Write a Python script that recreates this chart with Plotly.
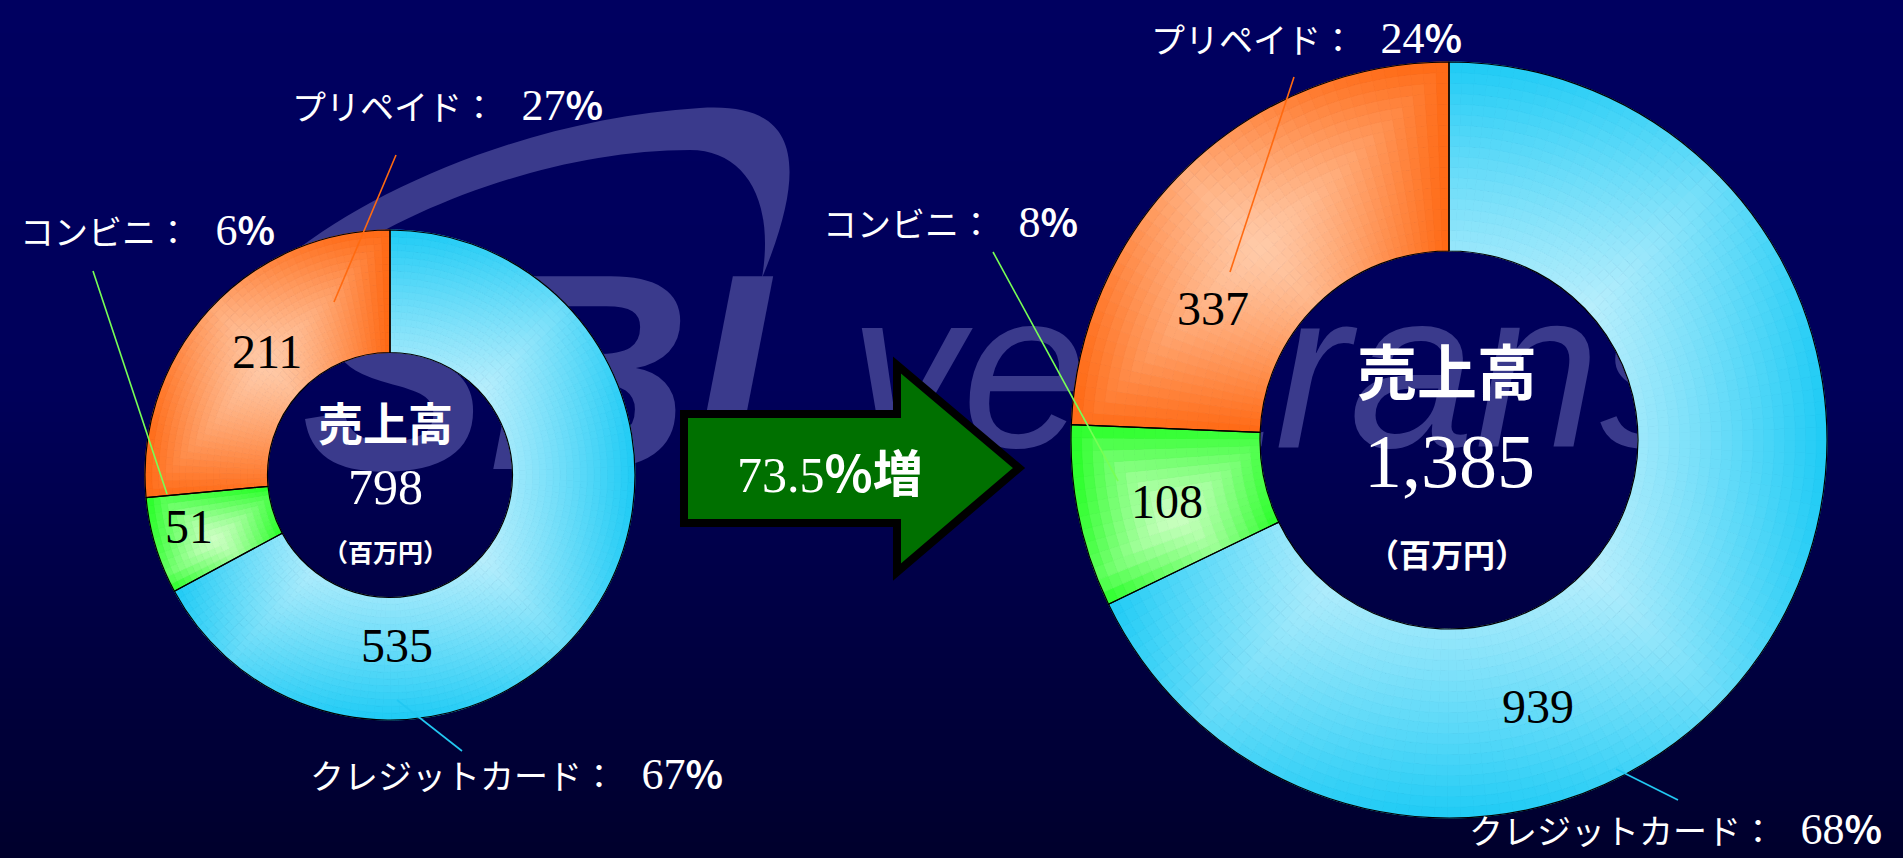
import math
import zlib
import struct
import base64
import plotly.graph_objects as go

W, H = 1903, 858

# ---------------- data ----------------
categories = ["クレジットカード", "コンビニ", "プリペイド"]
sales_before = [535, 51, 211]          # 百万円
sales_after = [939, 108, 337]          # 百万円
share_before = [67, 6, 27]             # %
share_after = [68, 8, 24]              # %
total_before = "798"
total_after = "1,385"
growth_rate = "73.5"
center_title = "売上高"
unit_label = "（百万円）"

# ---------------- style ----------------
SERIF = "Liberation Serif"
JP = "Noto Sans CJK JP"
MIX = "Liberation Serif, Noto Sans CJK JP"
SAT = [(30, 203, 245), (34, 255, 34), (255, 104, 18)]
LIGHT = [(235, 250, 255), (205, 255, 195), (255, 202, 168)]
LINE_COL = ["#22c8f2", "#77ff55", "#ff6a10"]
WM = "#3a3a8c"


def px(x):
    return x / W


def py(y):
    return 1 - y / H


def P(x, y):
    return f"{px(x):.5f},{py(y):.5f}"


def mix(a, b, f):
    return "rgb(%d,%d,%d)" % tuple(round(a[i] + (b[i] - a[i]) * f) for i in range(3))


def png_column(colors):
    raw = b"".join(b"\x00" + bytes(c) for c in colors)

    def chunk(t, d):
        c = struct.pack(">I", len(d)) + t + d
        return c + struct.pack(">I", zlib.crc32(t + d) & 0xFFFFFFFF)

    ihdr = struct.pack(">IIBBBBB", 1, len(colors), 8, 2, 0, 0, 0)
    png = (b"\x89PNG\r\n\x1a\n" + chunk(b"IHDR", ihdr)
           + chunk(b"IDAT", zlib.compress(raw)) + chunk(b"IEND", b""))
    return "data:image/png;base64," + base64.b64encode(png).decode()


bg_rows = []
for yy in range(H):
    t = yy / (H - 1)
    b = 96 - 6 * t / 0.45 if t < 0.45 else 90 - 46 * (t - 0.45) / 0.55
    bg_rows.append((0, 0, int(round(b))))

fig = go.Figure()


def domain(cx, cy, r):
    return dict(x=[px(cx - r), px(cx + r)], y=[py(cy + r), py(cy - r)])


def add_donut(values, cx, cy, r_out, hole, n_rings=18, step=2.0):
    total = sum(values)
    r_in = r_out * hole
    starts, acc = [], 0.0
    for v in values:
        starts.append(acc)
        acc += v / total * 360
    # bounding box of each slice (for a path-style gradient)
    boxes = []
    for i, v in enumerate(values):
        span = v / total * 360
        xs, ys = [], []
        for s in range(201):
            a = math.radians(starts[i] + span * s / 200)
            for r in (r_in, r_out):
                xs.append(cx + r * math.sin(a))
                ys.append(cy - r * math.cos(a))
        boxes.append(((min(xs) + max(xs)) / 2, (min(ys) + max(ys)) / 2,
                      (max(xs) - min(xs)) / 2, (max(ys) - min(ys)) / 2))
    for k in range(n_rings):
        r_lo = r_in + (r_out - r_in) * k / n_rings
        r_hi = r_in + (r_out - r_in) * (k + 1) / n_rings
        r_mid = (r_lo + r_hi) / 2
        labs, vals, cols = [], [], []
        for i, v in enumerate(values):
            span = v / total * 360
            m = max(2, int(round(span / step)))
            bx, by, hw, hh = boxes[i]
            for j in range(m):
                a = math.radians(starts[i] + (j + 0.5) * span / m)
                x = cx + r_mid * math.sin(a)
                y = cy - r_mid * math.cos(a)
                s = min(1.0, max(abs(x - bx) / hw, abs(y - by) / hh))
                cols.append(mix(LIGHT[i], SAT[i], s ** 1.3))
                labs.append(f"{i}-{j}")
                vals.append(v / m)
        fig.add_trace(go.Pie(
            labels=labs, values=vals, domain=domain(cx, cy, r_hi),
            hole=r_lo / r_hi, sort=False, direction="clockwise", rotation=0,
            marker=dict(colors=cols, line=dict(color=cols, width=1)),
            textinfo="none", hoverinfo="skip", showlegend=False))
    fig.add_trace(go.Pie(
        labels=categories, values=values, domain=domain(cx, cy, r_out),
        hole=hole, sort=False, direction="clockwise", rotation=0,
        marker=dict(colors=["rgba(0,0,0,0)"] * len(values),
                    line=dict(color="black", width=1.2)),
        textinfo="none", hovertemplate="%{label}: %{value}<extra></extra>",
        showlegend=False))


L_CX, L_CY, L_R = 390, 475, 245
R_CX, R_CY, R_R = 1449, 440, 378
add_donut(sales_before, L_CX, L_CY, L_R, 0.5)
add_donut(sales_after, R_CX, R_CY, R_R, 0.5)

ann = []


def text(x, y, s, size, color="white", family=MIX, xanchor="center"):
    ann.append(dict(x=px(x), y=py(y), xref="paper", yref="paper", text=s,
                    showarrow=False, xanchor=xanchor, yanchor="middle",
                    font=dict(size=size, color=color, family=family)))


def share_text(cat, p):
    return (f"{cat}：\u2002\u00a0<span style=\"font-size:44px\">{p}</span>"
            f"<span style=\"font-family:Noto Sans CJK JP;font-size:39px\"><b>%</b></span>")


# values inside the slices
for (x, y), v in zip([(397, 645), (189, 526), (267, 351)], sales_before):
    text(x, y, f"{v}", 48, "black", SERIF)
for (x, y), v in zip([(1538, 706), (1167, 501), (1213, 308)], sales_after):
    text(x, y, f"{v}", 48, "black", SERIF)

# centre texts
text(385, 421, f"<b>{center_title}</b>", 45, family=JP)
text(385, 487, total_before, 50, family=SERIF)
text(385, 551, f"<b>{unit_label}</b>", 25, family=JP)
text(1447, 368, f"<b>{center_title}</b>", 60, family=JP)
text(1449, 461, total_after, 76, family=SERIF)
text(1447, 553, f"<b>{unit_label}</b>", 32, family=JP)

# category / share labels
for (x, y), c, p in zip([(516, 772), (147, 228), (447, 103)], categories, share_before):
    text(x, y, share_text(c, p), 34)
for (x, y, xa), c, p in zip([(1884, 827, "right"), (950, 220, "center"), (1306, 36, "center")],
                            categories, share_after):
    text(x, y, share_text(c, p), 34, xanchor=xa)

# growth arrow text
text(830, 470, f"{growth_rate}<span style=\"font-family:Noto Sans CJK JP\"><b>%増</b></span>", 50)

shapes = []
# watermark (behind everything)
swoosh = (f"M {P(236,310)} C {P(300,220)} {P(500,120)} {P(700,108)} "
          f"C {P(790,102)} {P(815,150)} {P(762,278)} "
          f"C {P(775,200)} {P(745,150)} {P(690,150)} "
          f"C {P(520,150)} {P(330,240)} {P(268,318)} Z")
shapes.append(dict(type="path", path=swoosh, xref="paper", yref="paper",
                   fillcolor=WM, line=dict(width=0), layer="below"))
shapes.append(dict(type="rect", xref="paper", yref="paper",
                   x0=px(310), x1=px(760), y0=py(460), y1=py(230),
                   line=dict(width=0), fillcolor="rgba(0,0,0,0)", layer="below",
                   label=dict(text="SBI", textposition="middle center",
                              font=dict(family="Liberation Sans", size=280, color=WM,
                                        weight="bold", style="italic"))))
shapes.append(dict(type="rect", xref="paper", yref="paper",
                   x0=px(850), x1=px(1712), y0=py(440), y1=py(256),
                   line=dict(width=0), fillcolor="rgba(0,0,0,0)", layer="below",
                   label=dict(text="veritrans", textposition="middle center",
                              font=dict(family="Liberation Sans", size=225, color=WM,
                                        style="italic"))))

# leader lines
leaders = [((397, 700), (462, 751), 0), ((93, 271), (167, 494), 1), ((396, 155), (334, 302), 2),
           ((1616, 769), (1678, 800), 0), ((993, 252), (1118, 481), 1), ((1294, 77), (1230, 272), 2)]
for (x0, y0), (x1, y1), ci in leaders:
    shapes.append(dict(type="line", xref="paper", yref="paper",
                       x0=px(x0), y0=py(y0), x1=px(x1), y1=py(y1),
                       line=dict(color=LINE_COL[ci], width=1.6), layer="above"))

# block arrow
arrow = (f"M {P(684,414)} L {P(897,414)} L {P(897,365)} L {P(1019,468)} "
         f"L {P(897,572)} L {P(897,523)} L {P(684,523)} Z")
shapes.append(dict(type="path", path=arrow, xref="paper", yref="paper",
                   fillcolor="#007000", line=dict(color="black", width=8), layer="above"))

fig.update_layout(
    width=W, height=H, margin=dict(l=0, r=0, t=0, b=0),
    paper_bgcolor="#00005a", plot_bgcolor="#00005a",
    showlegend=False,
    font=dict(family=MIX, color="white"),
    images=[dict(source=png_column(bg_rows), xref="paper", yref="paper",
                 x=0, y=1, sizex=1, sizey=1, sizing="stretch",
                 xanchor="left", yanchor="top", layer="below")],
    shapes=shapes, annotations=ann,
)

fig.write_html("out.html", config={"displayModeBar": False},
               post_script="document.body.style.margin='0';document.body.style.overflow='hidden';")
